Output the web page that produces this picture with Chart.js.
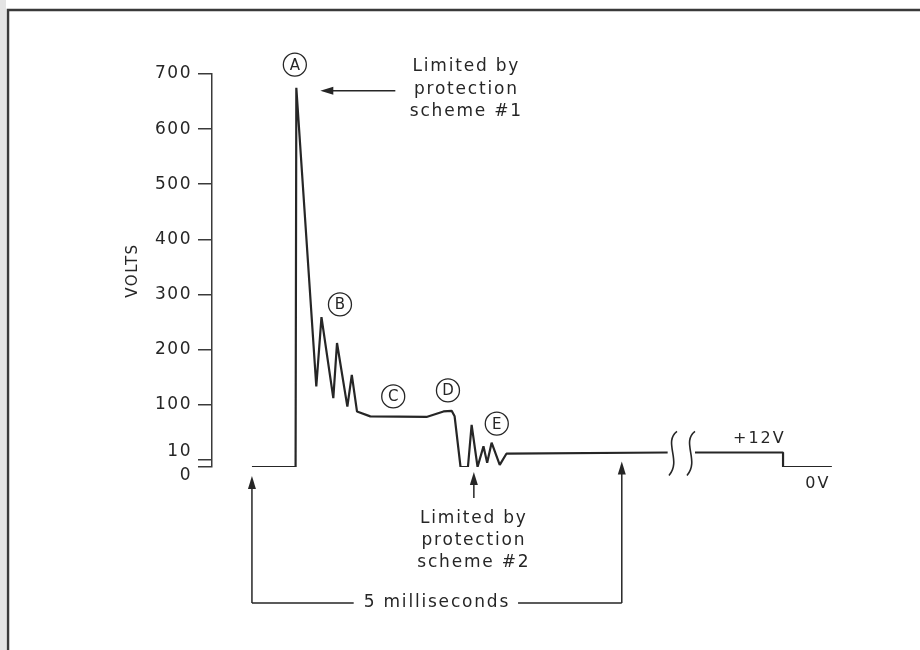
<!DOCTYPE html>
<html>
<head>
<meta charset="utf-8">
<script src="https://cdn.jsdelivr.net/npm/chart.js@4.4.0/dist/chart.umd.min.js"></script>
<style>
  body { margin: 0; background: #fff; }
  #wrap { width: 920px; height: 650px; position: relative; }
</style>
</head>
<body>
<div id="wrap"><canvas id="pulse"></canvas></div>
<script>
// waveform: time in ms from the start of the pulse, volts (null = time break)
const times = [0, 0.59, 0.60, 0.87, 0.94, 1.10, 1.15, 1.29, 1.35, 1.42, 1.60, 2.36, 2.59, 2.70, 2.74, 2.82,
               2.92, 2.97, 3.05, 3.13, 3.18, 3.24, 3.35, 3.44, 5.62, 5.80, 5.99, 7.18, 7.18, 7.84];
const volts = [0, 0, 675, 133, 259, 112, 212, 97, 154, 89, 81, 80, 89, 90, 81, 0,
               0, 67, 0, 32, 6, 38, 3, 20, 22, null, 22, 22, 0, 0];

const voltTicks = [0, 10, 100, 200, 300, 400, 500, 600, 700];

// circled letters
const markLetters = ['A', 'B', 'C', 'D', 'E'];
const markTimes = [0.58, 1.19, 1.91, 2.65, 3.31];
const markVolts = [717, 282, 115, 126, 69];

const note1 = ['Limited by', 'protection', 'scheme #1'];
const note2 = ['Limited by', 'protection', 'scheme #2'];
const spanLabel = '5 milliseconds';
const spanTimes = [0, 5];
const breakTime = 5.80;
const levelLabels = ['+12V', '0V'];
const levelTimes = [6.86, 7.65];
const levelVolts = [22, 0];

const ink = '#262626';
const FONT = '"DejaVu Sans", sans-serif';

// volts axis: 0..10 is squeezed into a short step, the ticks above sit one full step apart
class VoltScale extends Chart.LinearScale {
  static id = 'voltSteps';
  static defaults = Chart.LinearScale.defaults;

  buildTicks() {
    return voltTicks.map(v => ({ value: v }));
  }

  steps(v) {
    const first = 0.13;
    if (v <= voltTicks[1]) return first * v / voltTicks[1];
    for (let i = 2; i < voltTicks.length; i++) {
      if (v <= voltTicks[i] || i === voltTicks.length - 1) {
        const a = voltTicks[i - 1], b = voltTicks[i];
        return first + (i - 2) + (v - a) / (b - a);
      }
    }
    return NaN;
  }

  getPixelForValue(v) {
    return this.getPixelForDecimal(this.steps(v) / this.steps(this.max));
  }

  getValueForPixel(p) {
    return this.getDecimalForPixel(p) * this.max;
  }
}
Chart.register(VoltScale);

function arrow(ctx, x1, y1, x2, y2) {
  const a = Math.atan2(y2 - y1, x2 - x1);
  const c = Math.cos(a), s = Math.sin(a);
  ctx.beginPath();
  ctx.moveTo(x1, y1);
  ctx.lineTo(x2 - 8 * c, y2 - 8 * s);
  ctx.stroke();
  ctx.beginPath();
  ctx.moveTo(x2, y2);
  ctx.lineTo(x2 - 13 * c + 4 * s, y2 - 13 * s - 4 * c);
  ctx.lineTo(x2 - 13 * c - 4 * s, y2 - 13 * s + 4 * c);
  ctx.closePath();
  ctx.fill();
}

function lines(ctx, text, cx, cy, gap) {
  text.forEach((t, i) => ctx.fillText(t, cx, cy + i * gap));
}

const notes = {
  id: 'notes',
  beforeDraw(chart) {
    const ctx = chart.ctx;
    ctx.save();
    ctx.fillStyle = '#e4e4e4';
    ctx.fillRect(0, 0, 6, chart.height);
    ctx.strokeStyle = '#3a3a3a';
    ctx.lineWidth = 2.5;
    ctx.beginPath();
    ctx.moveTo(8, chart.height);
    ctx.lineTo(8, 10);
    ctx.lineTo(chart.width, 10);
    ctx.stroke();
    ctx.restore();
    // tick labels and axis title are drawn a little spaced out
    ctx.letterSpacing = '1.5px';
  },
  afterDraw(chart) {
    const x = chart.scales.x, y = chart.scales.y;
    const ctx = chart.ctx;
    const y0 = y.getPixelForValue(0);
    ctx.save();
    ctx.strokeStyle = ink;
    ctx.fillStyle = ink;
    ctx.textAlign = 'center';
    ctx.textBaseline = 'middle';

    // circled letters
    ctx.font = '15px ' + FONT;
    ctx.letterSpacing = '0px';
    ctx.lineWidth = 1.3;
    markLetters.forEach((m, i) => {
      const px = x.getPixelForValue(markTimes[i]);
      const py = y.getPixelForValue(markVolts[i]);
      ctx.beginPath();
      ctx.arc(px, py, 11.5, 0, Math.PI * 2);
      ctx.stroke();
      ctx.fillText(m, px, py + 1);
    });

    ctx.font = '17px ' + FONT;
    ctx.letterSpacing = '1.8px';
    ctx.lineWidth = 1.5;

    // note 1, pointing at the peak
    const top = volts.indexOf(Math.max(...volts.filter(v => v !== null)));
    const pkx = x.getPixelForValue(times[top]);
    const pky = y.getPixelForValue(volts[top]);
    arrow(ctx, pkx + 99, pky + 3, pkx + 24, pky + 3);
    lines(ctx, note1, pkx + 170, pky - 21, 22.5);

    // note 2, under the clamped ringing
    const n2x = x.getPixelForValue(3.0);
    arrow(ctx, n2x, y0 + 31, n2x, y0 + 5);
    lines(ctx, note2, n2x, y0 + 52, 22);

    // 5 ms bracket
    const xl = x.getPixelForValue(spanTimes[0]);
    const xr = x.getPixelForValue(spanTimes[1]);
    const yb = y0 + 136;
    const tw = ctx.measureText(spanLabel).width;
    const xm = (xl + xr) / 2;
    ctx.fillText(spanLabel, xm, yb);
    ctx.beginPath();
    ctx.moveTo(xl, yb);
    ctx.lineTo(xm - tw / 2 - 10, yb);
    ctx.moveTo(xm + tw / 2 + 8, yb);
    ctx.lineTo(xr, yb);
    ctx.stroke();
    arrow(ctx, xl, yb, xl, y0 + 9);
    arrow(ctx, xr, yb, xr, y.getPixelForValue(22) + 9);

    // level labels
    ctx.font = '16px ' + FONT;
    ctx.letterSpacing = '2px';
    levelLabels.forEach((t, i) => {
      const ly = y.getPixelForValue(levelVolts[i]) + (i === 0 ? -14 : 17);
      ctx.fillText(t, x.getPixelForValue(levelTimes[i]), ly);
    });

    // time break marks
    const bx = x.getPixelForValue(breakTime);
    const by = y.getPixelForValue(22);
    ctx.lineWidth = 1.6;
    [bx - 9, bx + 9].forEach(cx => {
      ctx.beginPath();
      ctx.moveTo(cx + 5, by - 21);
      ctx.bezierCurveTo(cx - 9, by - 10, cx + 10, by + 8, cx - 3, by + 23);
      ctx.stroke();
    });
    ctx.restore();
  }
};

new Chart(document.getElementById('pulse'), {
  type: 'line',
  data: {
    datasets: [{
      data: times.map((t, i) => ({ x: t, y: volts[i] })),
      borderColor: ink,
      borderWidth: 2.2,
      borderJoinStyle: 'bevel',
      pointRadius: 0,
      tension: 0,
      spanGaps: false,
      fill: false
    }]
  },
  options: {
    responsive: true,
    maintainAspectRatio: false,
    animation: false,
    events: [],
    layout: { padding: { left: 118, top: 74, right: 80, bottom: 183 } },
    plugins: { legend: { display: false }, tooltip: { enabled: false } },
    scales: {
      x: { type: 'linear', min: -0.54, max: 7.95, display: false },
      y: {
        type: 'voltSteps',
        min: 0,
        max: 700,
        afterFit: s => { s.width = 94; },
        border: { display: true, color: '#3a3a3a', width: 1.5 },
        grid: { drawOnChartArea: false, drawTicks: true, tickLength: 14, color: '#3a3a3a', lineWidth: 1.5 },
        ticks: {
          autoSkip: false,
          padding: 6,
          color: ink,
          font: { family: FONT, size: 17, lineHeight: 1.0 },
          callback: v => v === 10 ? ['10', ''] : v === 0 ? ['', '0'] : String(v)
        },
        title: {
          display: true,
          text: 'VOLTS',
          color: ink,
          font: { family: FONT, size: 15 },
          padding: { top: 6, bottom: 0 }
        }
      }
    }
  },
  plugins: [notes]
});
</script>
</body>
</html>
